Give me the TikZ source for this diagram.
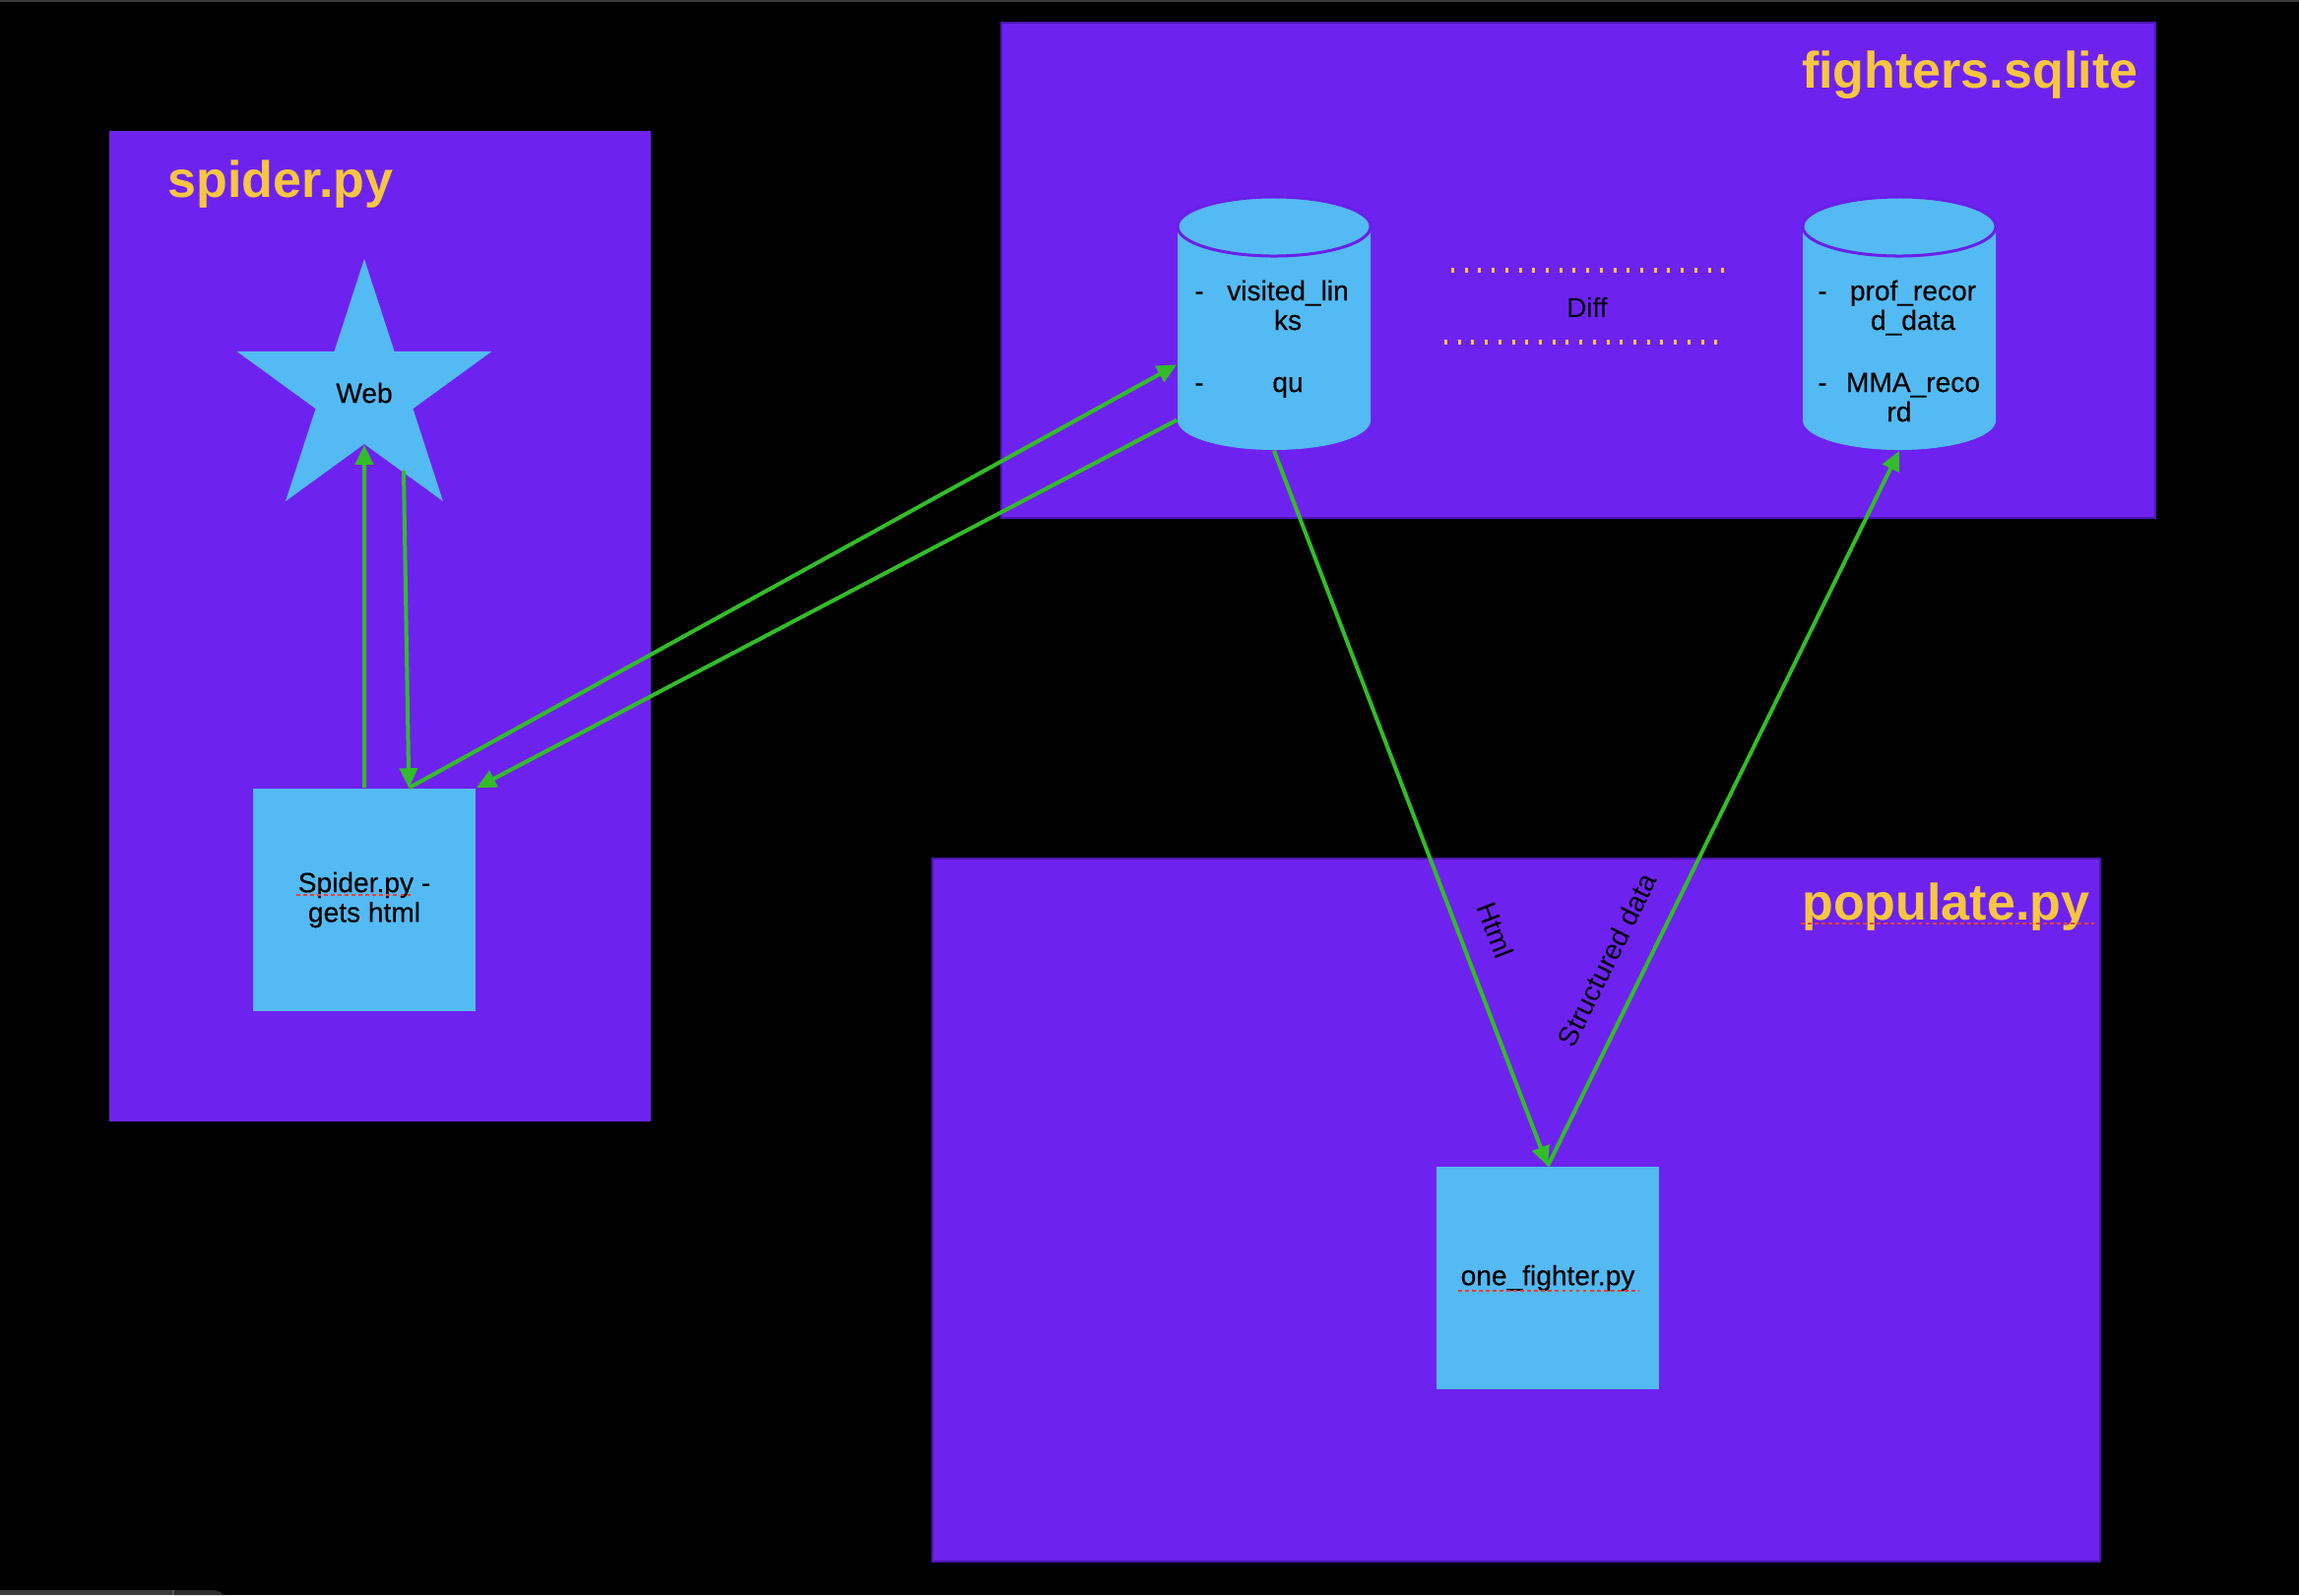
\documentclass[tikz,border=0pt]{standalone}
\usepackage{fontspec}
\setmainfont{Liberation Sans}
\newfontfamily\medfont[FakeBold=0.35]{Liberation Sans}
\usetikzlibrary{arrows.meta,shapes.geometric,calc}
\definecolor{bgpurple}{HTML}{6E22F0}
\definecolor{edgepurple}{HTML}{4C16B0}
\definecolor{lblue}{HTML}{54BAF3}
\definecolor{ttlyellow}{HTML}{F5C642}
\definecolor{arrgreen}{HTML}{33BC29}
\definecolor{rimpurple}{HTML}{6A20E8}
\definecolor{spellred}{HTML}{E8403A}
\definecolor{topgray}{HTML}{3A3A3A}
\definecolor{widgetA}{HTML}{3B3B3B}
\definecolor{widgetB}{HTML}{2C2C2C}
\definecolor{widgetC}{HTML}{5A5A5A}
\begin{document}
\begin{tikzpicture}[x=0.01cm,y=-0.01cm,
  panel/.style={fill=bgpurple},
  title/.style={font=\bfseries\fontsize{14.8pt}{17pt}\selectfont, text=ttlyellow, inner sep=0},
  bodytxt/.style={font=\medfont\fontsize{8pt}{8.6pt}\selectfont, text=black},
  filebox/.style={rectangle, fill=lblue, minimum width=2.26cm, minimum height=2.26cm, inner sep=0, align=center, bodytxt},
  dbbody/.style={fill=lblue},
  dbtop/.style={fill=lblue, draw=rimpurple, line width=0.03cm},
  flow/.style={draw=arrgreen, line width=0.04cm, -{Triangle[length=0.2cm,width=0.18cm]}},
  lbl/.style={font=\fontsize{8pt}{9pt}\selectfont, text=black, sloped, above},
  spell/.style={draw=spellred, line width=0.6pt, dash pattern=on 1.1pt off 0.9pt},
  diffdots/.style={draw=ttlyellow, line width=0.05cm, dash pattern=on 0.85pt off 3.05pt}
]
% background and frame
\fill[black] (0,0) rectangle (2335,1620);
\useasboundingbox (0,0) rectangle (2335,1620);
\fill[topgray] (0,0) rectangle (2335,2);
\fill[widgetA] (0,1615) rectangle (176,1620);
\fill[widgetB] (176,1615) -- (214,1615) .. controls (221,1615) and (225,1617) .. (227,1620) -- (176,1620) -- cycle;
\draw[widgetC, line width=0.3pt] (176,1615) -- (176,1620);

% panels
\fill[panel] (111,133) rectangle (661,1139);
\filldraw[panel, draw=edgepurple, line width=0.4pt] (1017,23) rectangle (2189,526);
\filldraw[panel, draw=edgepurple, line width=0.4pt] (947,872) rectangle (2133,1586);

% titles
\node[title, anchor=base west] (tspider) at (170,200) {spider.py};
\node[title, anchor=base east] (tfighters) at (2172,89) {fighters.sqlite};
\node[title, anchor=base east] (tpopulate) at (2123,934) {populate.py};
\draw[spell] (1829,938) -- (2127,938);

% star
\node[star, star points=5, star point ratio=2.618, minimum size=2.72cm, inner sep=0, fill=lblue, bodytxt] (web) at (370,399) {Web};

% spider box
\node[filebox] (sp) at (370,914) {Spider.py -\\gets html};
\draw[spell] (301,909) -- (419,909);

% one_fighter box
\node[filebox] (of) at (1572,1298) {one\_fighter.py};
\draw[spell] (1481,1311) -- (1665,1311);

% cylinder 1
\fill[dbbody] (1196,230) -- (1196,427) arc[start angle=180, end angle=360, x radius=0.98cm, y radius=0.30cm] -- (1392,230) -- cycle;
\filldraw[dbtop] (1294,230) ellipse [x radius=0.98cm, y radius=0.30cm];
\node[minimum width=1.96cm, minimum height=2.58cm, inner sep=0] (db1) at (1294,328) {};
\node[bodytxt, anchor=base] (b1) at (1218,305) {-};
\node[bodytxt, anchor=base] (v1) at (1308,305) {visited\_lin};
\node[bodytxt, anchor=base] (v2) at (1308,335) {ks};
\node[bodytxt, anchor=base] (b2) at (1218,398) {-};
\node[bodytxt, anchor=base] (v3) at (1308,398) {qu};

% cylinder 2
\fill[dbbody] (1831,230) -- (1831,427) arc[start angle=180, end angle=360, x radius=0.98cm, y radius=0.30cm] -- (2027,230) -- cycle;
\filldraw[dbtop] (1929,230) ellipse [x radius=0.98cm, y radius=0.30cm];
\node[minimum width=1.96cm, minimum height=2.58cm, inner sep=0] (db2) at (1929,328) {};
\node[bodytxt, anchor=base] (b3) at (1851,305) {-};
\node[bodytxt, anchor=base] (p1) at (1943,305) {prof\_recor};
\node[bodytxt, anchor=base] (p2) at (1943,335) {d\_data};
\node[bodytxt, anchor=base] (b4) at (1851,398) {-};
\node[bodytxt, anchor=base] (p3) at (1943,398) {MMA\_reco};
\node[bodytxt, anchor=base] (p4) at (1929,428) {rd};

% diff
\coordinate (d1a) at (1474,274);
\coordinate (d1b) at (1752,274);
\coordinate (d2a) at (1467,347);
\coordinate (d2b) at (1745,347);
\draw[diffdots] (d1a) -- (d1b);
\draw[diffdots] (d2a) -- (d2b);
\node[font=\fontsize{7.9pt}{9pt}\selectfont, text=black] (diff) at (1612,312) {Diff};

% connectors
\coordinate (webout) at (410,478);
\coordinate (spin) at ($(sp.north west)!0.699!(sp.north east)$);
\coordinate (db1in) at ($(db1.north west)!0.663!(db1.south west)$);
\coordinate (db1out) at ($(db1.north west)!0.88!(db1.south west)$);
\draw[flow] (sp.north) -- (web.south);
\draw[flow] (webout) -- (spin);
\draw[flow] (spin) -- (db1in);
\draw[flow] (db1out) -- (sp.north east);
\draw[flow] (db1.south) -- node[lbl, pos=0.688, inner sep=0.24cm] (lhtml) {Html} (of.north);
\draw[flow] (of.north) -- node[lbl, pos=0.265, inner sep=0.26cm] (lstruct) {Structured data} (db2.south);
\end{tikzpicture}
\end{document}
